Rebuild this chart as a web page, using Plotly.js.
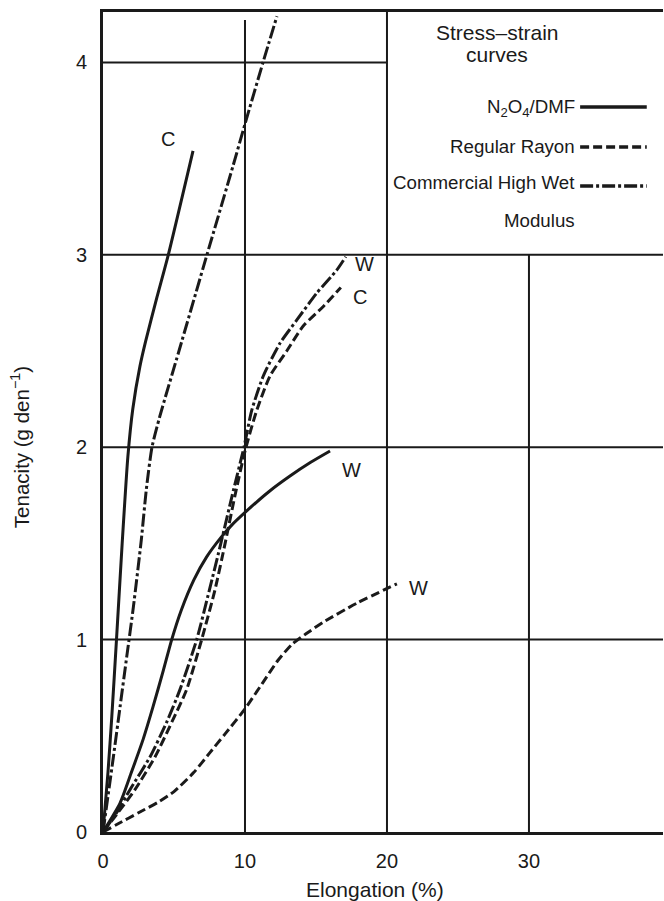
<!DOCTYPE html>
<html>
<head>
<meta charset="utf-8">
<script src="https://cdn.plot.ly/plotly-3.0.1.min.js"></script>
<style>
html,body{margin:0;padding:0;background:#fff;}
#chart{width:664px;height:901px;}
</style>
</head>
<body>
<div id="chart"></div>
<script>
// ---- Data (x = elongation %, y = tenacity g/den) ----
var n2o4C_x = [0, 0.35, 0.62, 0.95, 1.35, 1.75, 2.1, 2.6, 3.0, 3.8, 4.6, 6.34];
var n2o4C_y = [0, 0.31, 0.60, 1.0, 1.50, 1.95, 2.2, 2.42, 2.55, 2.78, 3.0, 3.54];

var n2o4W_x = [0, 1.2, 2.0, 2.82, 3.52, 4.25, 4.84, 5.5, 6.4, 7.3, 8.3, 9.0, 10.14, 11.7, 13.17, 14.6, 15.99];
var n2o4W_y = [0, 0.15, 0.31, 0.48, 0.65, 0.84, 1.0, 1.15, 1.31, 1.43, 1.53, 1.59, 1.67, 1.77, 1.85, 1.92, 1.98];

var hwmC_x = [0, 0.73, 1.2, 1.67, 2.14, 2.7, 3.05, 3.45, 4.0, 5.35, 7.32, 9.15, 10.0, 11.27, 12.25];
var hwmC_y = [0, 0.39, 0.65, 0.91, 1.17, 1.52, 1.78, 2.0, 2.16, 2.5, 3.0, 3.46, 3.68, 4.0, 4.24];

var hwmW_x = [0, 0.96, 1.9, 3.31, 4.48, 5.42, 6.6, 7.5, 8.3, 9.1, 9.93, 10.47, 11.29, 12.46, 13.64, 15.04, 16.46, 17.1];
var hwmW_y = [0, 0.10, 0.22, 0.39, 0.57, 0.74, 1.0, 1.26, 1.50, 1.75, 2.0, 2.19, 2.37, 2.54, 2.66, 2.80, 2.92, 2.99];

var rayonC_x = [0, 1.05, 2.25, 3.66, 4.84, 5.89, 6.95, 7.89, 8.6, 9.3, 10.0, 10.82, 11.76, 12.94, 14.1, 15.5, 16.75];
var rayonC_y = [0, 0.10, 0.22, 0.39, 0.57, 0.74, 1.0, 1.26, 1.50, 1.75, 1.98, 2.19, 2.37, 2.50, 2.63, 2.73, 2.83];

var rayonW_x = [0, 1.0, 2.5, 4.0, 5.0, 6.4, 7.5, 8.6, 10.0, 11.2, 12.3, 13.3, 14.3, 15.5, 17.9, 20.7];
var rayonW_y = [0, 0.04, 0.10, 0.16, 0.21, 0.31, 0.41, 0.51, 0.64, 0.77, 0.89, 0.975, 1.03, 1.09, 1.19, 1.29];

var xTicks = [0, 10, 20, 30];
var yTicks = [0, 1, 2, 3, 4];

var curveLabels = ["C", "W", "C", "W", "W"];
var curveLabelX = [4.58, 18.45, 18.1, 17.5, 22.2];
var curveLabelY = [3.60, 2.95, 2.78, 1.88, 1.27];

var legendNames = ["N<sub>2</sub>O<sub>4</sub>/DMF", "Regular Rayon", "Commercial High Wet", "Modulus"];

// ---- Styles ----
var FONT = "Liberation Sans, Arial, Helvetica, sans-serif";
var INK = "#1a1a1a";
var DASH_RAYON = "9px,4px";
var DASH_HWM = "13px,3px,3px,3px";

function curve(x, y, dash) {
  return {
    x: x, y: y, type: "scatter", mode: "lines",
    line: {color: INK, width: 3, dash: dash, shape: "spline", smoothing: 0.6},
    showlegend: false, hoverinfo: "x+y"
  };
}

var data = [
  curve(n2o4C_x, n2o4C_y, "solid"),
  curve(n2o4W_x, n2o4W_y, "solid"),
  curve(hwmC_x, hwmC_y, DASH_HWM),
  curve(hwmW_x, hwmW_y, DASH_HWM),
  curve(rayonC_x, rayonC_y, DASH_RAYON),
  curve(rayonW_x, rayonW_y, DASH_RAYON)
];

// grid lines (partial, as in the original figure)
function gl(x0, y0, x1, y1) {
  return {type: "line", xref: "x", yref: "y", x0: x0, y0: y0, x1: x1, y1: y1,
          line: {color: INK, width: 2}, layer: "below"};
}
var shapes = [
  gl(0, 1, 39.44, 1), gl(0, 2, 39.44, 2), gl(0, 3, 39.44, 3), gl(0, 4, 20, 4),
  gl(10, 0, 10, 4.22), gl(20, 0, 20, 4.262), gl(30, 0, 30, 3)
];
// legend samples
var legY = [0.8841, 0.8354, 0.7878];
var legDash = ["solid", DASH_RAYON, DASH_HWM];
for (var i = 0; i < 3; i++) {
  shapes.push({type: "line", xref: "paper", yref: "paper", x0: 0.852, x1: 0.971,
               y0: legY[i], y1: legY[i], line: {color: INK, width: 3.5, dash: legDash[i]}});
}

var annotations = [];
for (var j = 0; j < curveLabels.length; j++) {
  annotations.push({x: curveLabelX[j], y: curveLabelY[j], xref: "x", yref: "y",
    xanchor: "center", yanchor: "middle",
    text: curveLabels[j], showarrow: false, font: {family: FONT, size: 20, color: INK}});
}
var legTextY = [0.8829, 0.8354, 0.7915, 0.7463];
for (var k = 0; k < legendNames.length; k++) {
  annotations.push({x: 0.846, y: legTextY[k], xref: "paper", yref: "paper", xanchor: "right",
    yanchor: "middle", text: legendNames[k], showarrow: false,
    font: {family: FONT, size: 18.7, color: INK}});
}
annotations.push({x: 0.7036, y: 0.9756, xref: "paper", yref: "paper", xanchor: "center", yanchor: "middle",
  text: "Stress–strain", showarrow: false, font: {family: FONT, size: 21, color: INK}});
annotations.push({x: 0.7036, y: 0.9476, xref: "paper", yref: "paper", xanchor: "center", yanchor: "middle",
  text: "curves", showarrow: false, font: {family: FONT, size: 21, color: INK}});
// axis titles
annotations.push({x: 0.486, y: -0.0707, xref: "paper", yref: "paper", xanchor: "center", yanchor: "middle",
  text: "Elongation (%)", showarrow: false, font: {family: FONT, size: 21, color: INK}});
annotations.push({x: -0.148, y: 0.4695, xref: "paper", yref: "paper", xanchor: "center", yanchor: "middle",
  textangle: -90, text: "Tenacity (g den<sup>−1</sup>)", showarrow: false,
  font: {family: FONT, size: 20.5, color: INK}});

var layout = {
  width: 664, height: 901,
  margin: {l: 103, r: 1, t: 12, b: 69, pad: 0},
  paper_bgcolor: "#fff", plot_bgcolor: "#fff",
  font: {family: FONT, color: INK},
  xaxis: {range: [0, 39.44], tickvals: xTicks, ticktext: xTicks.map(String),
          showgrid: false, zeroline: false, showline: true, mirror: true,
          linecolor: INK, linewidth: 3, ticks: "", ticklabelstandoff: 9,
          tickfont: {family: FONT, size: 20, color: INK}, fixedrange: true},
  yaxis: {range: [0, 4.262], tickvals: yTicks, ticktext: yTicks.map(String),
          showgrid: false, zeroline: false, showline: true, mirror: false,
          linecolor: INK, linewidth: 3, ticks: "", ticklabelstandoff: 9,
          tickfont: {family: FONT, size: 20, color: INK}, fixedrange: true},
  shapes: shapes,
  annotations: annotations,
  showlegend: false
};

Plotly.newPlot("chart", data, layout, {displayModeBar: false, staticPlot: true});
</script>
</body>
</html>
